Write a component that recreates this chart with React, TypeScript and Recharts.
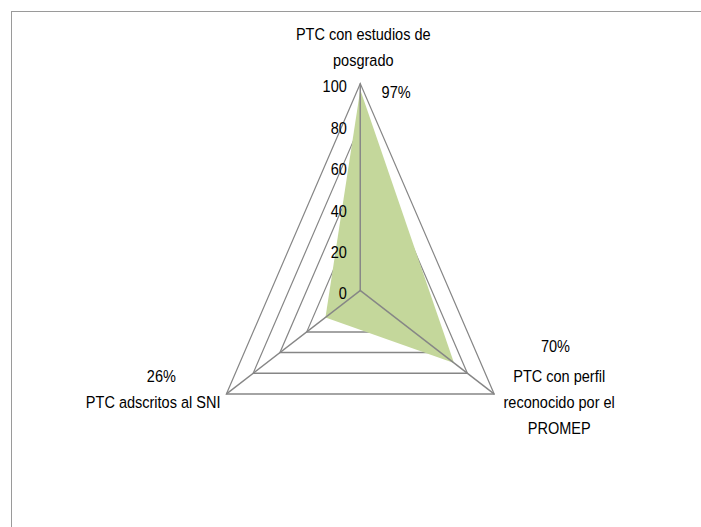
import React from "react";
import {
  RadarChart,
  Radar,
  PolarGrid,
  PolarAngleAxis,
  PolarRadiusAxis,
} from "recharts";

// categories, clockwise from the top
const categories = [
  "PTC con estudios de posgrado",
  "PTC con perfil reconocido por el PROMEP",
  "PTC adscritos al SNI",
];
const categoryLines = [
  ["PTC con estudios de", "posgrado"],
  ["PTC con perfil", "reconocido por el", "PROMEP"],
  ["PTC adscritos al SNI"],
];
const values = [97, 70, 26];
const radiusTicks = [0, 20, 40, 60, 80, 100];

const data = categories.map((name, i) => ({ name, value: values[i] }));

// the reference is squeezed horizontally
const SX = 0.747;
const TEXT_SX = 0.88 / SX;
const CHART_W = 940;
const CHART_H = 527;
const CX = 482.3;
const CY = 290.5;
const R = 207;
const FONT = "'Liberation Sans', Arial, sans-serif";
const GRID = "#868686";

// label placement relative to each vertex
const labelPos = [
  { pdx: 48, pdy: 8.5, ldx: 4, ldy: -49 },
  { pdx: 82, pdy: -48, ldx: 87, ldy: -18 },
  { pdx: -87, pdy: -17.5, ldx: -98, ldy: 8.5 },
];
const LINE_H = 26;

const Txt = ({ x, y, children, anchor = "middle" }: any) => (
  <text
    transform={`translate(${x},${y}) scale(${TEXT_SX},1)`}
    x={0}
    y={0}
    textAnchor={anchor}
    dominantBaseline="central"
    fontSize={16.5}
    fontFamily={FONT}
    fill="#000"
  >
    {children}
  </text>
);

const AngleTick = (props: any) => {
  const { payload, index } = props;
  const i = typeof index === "number" ? index : categories.indexOf(payload.value);
  const angle = (payload.coordinate * Math.PI) / 180;
  const vx = CX + R * Math.cos(angle);
  const vy = CY - R * Math.sin(angle);
  const p = labelPos[i];
  return (
    <g>
      <Txt x={vx + p.pdx} y={vy + p.pdy}>{`${values[i]}%`}</Txt>
      {categoryLines[i].map((line, k) => (
        <Txt key={k} x={vx + p.ldx} y={vy + p.ldy + k * LINE_H}>
          {line}
        </Txt>
      ))}
    </g>
  );
};

const RadiusTick = (props: any) => {
  const { x, y, payload } = props;
  return (
    <Txt x={x - 18} y={y + 3} anchor="end">
      {payload.value}
    </Txt>
  );
};

export default function App() {
  return (
    <div
      style={{
        position: "absolute",
        left: 0,
        top: 0,
        width: 701,
        height: 527,
        overflow: "hidden",
        background: "#fff",
      }}
    >
      <div
        style={{
          position: "absolute",
          left: 11,
          top: 11,
          width: 760,
          height: 600,
          border: "1.5px solid #9a9a9a",
        }}
      />
      <div
        style={{
          position: "absolute",
          left: 0,
          top: 0,
          width: CHART_W,
          height: CHART_H,
          transform: `scaleX(${SX})`,
          transformOrigin: "0 0",
        }}
      >
        <RadarChart
          width={CHART_W}
          height={CHART_H}
          data={data}
          cx={CX}
          cy={CY}
          outerRadius={R}
          margin={{ top: 0, right: 0, bottom: 0, left: 0 }}
        >
          <PolarGrid
            gridType="polygon"
            radialLines={false}
            stroke={GRID}
            strokeWidth={1.5}
          />
          <PolarAngleAxis
            dataKey="name"
            tick={<AngleTick />}
            axisLine={false}
            tickLine={false}
          />
          <Radar
            dataKey="value"
            fill="#C4D79B"
            fillOpacity={1}
            stroke="none"
            isAnimationActive={false}
          />
          <PolarGrid
            gridType="polygon"
            polarRadius={[0.01]}
            radialLines={true}
            stroke={GRID}
            strokeWidth={1.5}
            {...({ zIndex: 1000 } as any)}
          />
          <PolarRadiusAxis
            angle={90}
            domain={[0, 100]}
            ticks={radiusTicks as any}
            tickCount={6}
            tick={<RadiusTick />}
            axisLine={{ stroke: GRID, strokeWidth: 1.5 }}
            tickLine={false}
          />
        </RadarChart>
      </div>
    </div>
  );
}
